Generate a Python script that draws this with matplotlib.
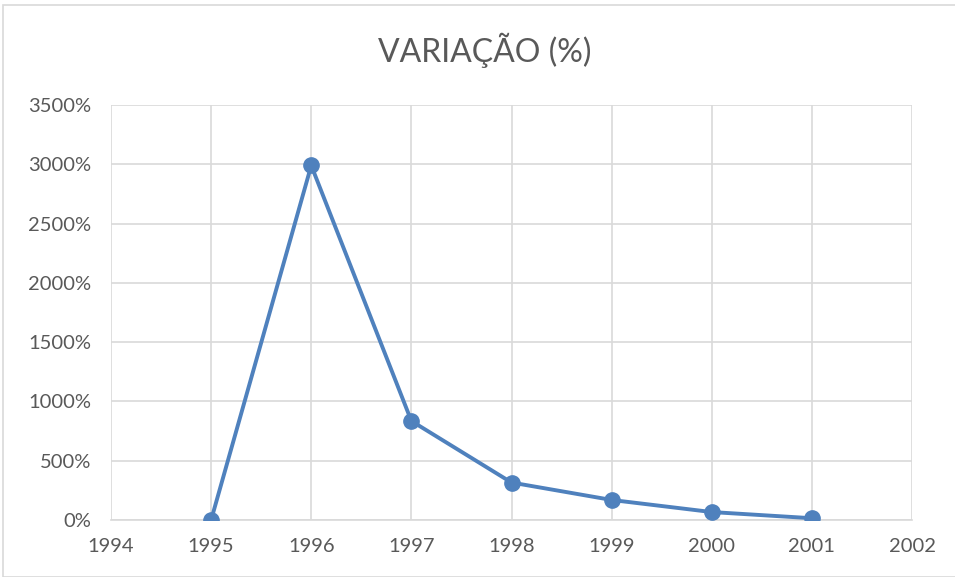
import matplotlib.pyplot as plt
from matplotlib.patches import Rectangle
from matplotlib.ticker import FuncFormatter

# data
years = [1995, 1996, 1997, 1998, 1999, 2000, 2001]
variacao = [0, 2990, 835, 316, 169, 67, 15]  # percent
x_ticks = list(range(1994, 2003))
y_ticks = list(range(0, 3501, 500))

plt.rcParams['font.family'] = ['Lato', 'DejaVu Sans']

fig = plt.figure(figsize=(9.55, 5.77), dpi=100)
ax = fig.add_axes([111 / 955, 1 - 520 / 577, (912 - 111) / 955, (520 - 105) / 577])

ax.plot(years, variacao, color='#4F81BD', lw=2.8, marker='o', markersize=11,
        solid_capstyle='round', zorder=3)

ax.set_xlim(1994, 2002)
ax.set_ylim(0, 3500)
ax.set_xticks(x_ticks)
ax.set_yticks(y_ticks)
ax.yaxis.set_major_formatter(FuncFormatter(lambda v, p: f"{int(v)}%"))

ax.grid(True, color='#d9d9d9', lw=1.2)
ax.set_axisbelow(True)
for s in ['top', 'right', 'left']:
    ax.spines[s].set_visible(False)
ax.spines['bottom'].set_color('#d9d9d9')
ax.spines['bottom'].set_linewidth(1.2)
ax.tick_params(length=0, labelsize=14.5, labelcolor='#595959')
ax.tick_params(axis='x', pad=13)
ax.tick_params(axis='y', pad=14)

fig.text(485 / 955, 1 - 50 / 577, 'VARIAÇÃO (%)', ha='center', va='center',
         fontsize=23, color='#595959')

# outer chart border
fig.patches.append(Rectangle((3 / 955, 0), 1.2, 1 - 5 / 577, transform=fig.transFigure,
                             fill=False, edgecolor='#d9d9d9', lw=1.2))

fig.savefig('out.png', dpi=100)
